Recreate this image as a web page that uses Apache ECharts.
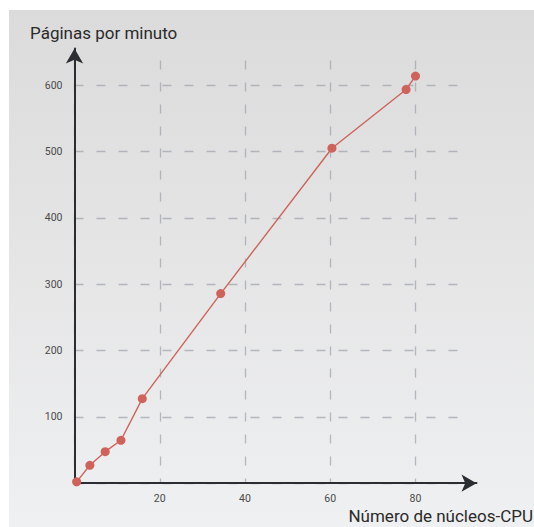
<!DOCTYPE html>
<html>
<head>
<meta charset="utf-8">
<script src="https://cdn.jsdelivr.net/npm/echarts@6/dist/echarts.min.js"></script>
<style>
html,body{margin:0;padding:0;background:#fff;}
#c{width:534px;height:527px;}
</style>
</head>
<body>
<div id="c"></div>
<script>
// Data
var cores = [0.5, 3.6, 7.2, 10.9, 15.9, 34.3, 60.4, 77.8, 80];
var pagesPerMinute = [2, 27, 47.5, 64.7, 127.4, 285.8, 505, 593.5, 613.7];
var xTicks = [20, 40, 60, 80];
var yTicks = [100, 200, 300, 400, 500, 600];
var yTitle = 'Páginas por minuto';
var xTitle = 'Número de núcleos-CPU';

var points = cores.map(function (c, i) { return [c, pagesPerMinute[i]]; });
var font = 'Roboto, "Liberation Sans", sans-serif';
var gridColor = 'rgba(160,166,174,0.75)';
var axisColor = '#2a2e33';
var xStep = 20, yStep = 100;
var xMaxTick = xTicks[xTicks.length - 1];
var yMaxTick = yTicks[yTicks.length - 1];

var chart = echarts.init(document.getElementById('c'), null, {renderer: 'svg'});
chart.setOption({
  backgroundColor: '#ffffff',
  animation: false,
  graphic: [{
    type: 'rect', z: -10, silent: true,
    shape: {x: 9, y: 10, width: 525, height: 517},
    style: {
      fill: new echarts.graphic.LinearGradient(0, 0, 0, 1, [
        {offset: 0, color: '#dbdbdb'},
        {offset: 1, color: '#eff0f1'}
      ])
    }
  }, {
    type: 'text', right: 1, top: 507,
    style: {text: xTitle, font: '17px ' + font, fill: '#2a2a2a'}
  }],
  title: {
    text: yTitle, left: 25, top: 19,
    textStyle: {fontSize: 17, fontWeight: 'normal', color: '#2a2a2a', fontFamily: font}
  },
  grid: [
    {left: 74.5, top: 85.2, width: 383.6, bottom: 43.8},
    {left: 74.5, top: 60.6, width: 341, bottom: 43.8},
    {left: 74.5, top: 48.5, width: 402, bottom: 43.8}
  ],
  xAxis: [
    {gridIndex: 0, type: 'value', min: 0, max: 90, interval: xStep,
     axisLine: {show: false}, axisTick: {show: false}, axisLabel: {show: false}, splitLine: {show: false}},
    {gridIndex: 1, type: 'value', min: 0, max: xMaxTick, interval: xStep,
     axisLine: {show: false}, axisTick: {show: false},
     axisLabel: {showMinLabel: false, margin: 10, fontSize: 10.5, color: '#4a4a4a', fontFamily: font},
     splitLine: {show: true, lineStyle: {color: gridColor, width: 1.3, type: [9, 13]}}},
    {gridIndex: 2, type: 'value', min: 0, max: 1,
     axisLine: {show: true, symbol: ['none', 'arrow'], symbolSize: [13, 15], lineStyle: {color: axisColor, width: 2}},
     axisTick: {show: false}, axisLabel: {show: false}, splitLine: {show: false}}
  ],
  yAxis: [
    {gridIndex: 0, type: 'value', min: 0, max: yMaxTick, interval: yStep,
     axisLine: {show: false}, axisTick: {show: false},
     axisLabel: {showMinLabel: false, margin: 12, fontSize: 10.5, color: '#4a4a4a', fontFamily: font},
     splitLine: {show: true, lineStyle: {color: gridColor, width: 1.3, type: [9, 13]}}},
    {gridIndex: 1, type: 'value', min: 0, max: 1,
     axisLine: {show: false}, axisTick: {show: false}, axisLabel: {show: false}, splitLine: {show: false}},
    {gridIndex: 2, type: 'value', min: 0, max: 1,
     axisLine: {show: true, symbol: ['none', 'arrow'], symbolSize: [13, 15], lineStyle: {color: axisColor, width: 2}},
     axisTick: {show: false}, axisLabel: {show: false}, splitLine: {show: false}}
  ],
  series: [{
    type: 'line', xAxisIndex: 0, yAxisIndex: 0, z: 5,
    clip: false,
    data: points,
    symbol: 'circle', symbolSize: 9,
    lineStyle: {color: '#cf625b', width: 1.4},
    itemStyle: {color: '#cf625b'}
  }]
});
</script>
</body>
</html>
